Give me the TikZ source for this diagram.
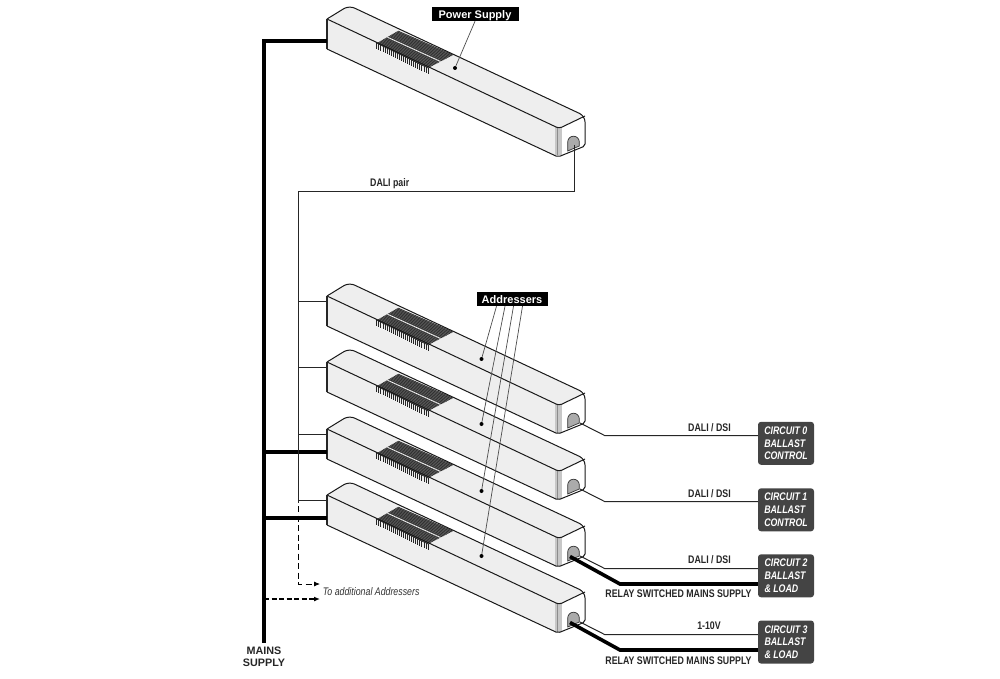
\documentclass[tikz,border=0pt]{standalone}
\usepackage{fontspec}
\usetikzlibrary{calc,arrows.meta}
\setmainfont{Liberation Sans}
\newfontfamily\narrowfont[FakeStretch=0.8]{Liberation Sans}
\definecolor{unitgray}{HTML}{EEEEEE}
\definecolor{slotgray}{HTML}{ABABAB}
\definecolor{circuitgray}{HTML}{444444}
\tikzset{
  unitline/.style={draw=black!90,line width=1pt},
  wire/.style={draw=black!85,line width=1pt},
  mainsline/.style={draw=black,line width=4pt},
  leader/.style={draw=black!70,line width=0.7pt},
  wirelabel/.style={font=\narrowfont\bfseries\fontsize{11}{12}\selectfont,text=black!85,inner sep=0pt},
  tagbox/.style={fill=black,text=white,inner sep=0pt,minimum height=14pt,text height=8.5pt,text depth=0pt,font=\bfseries\fontsize{11}{12}\selectfont},
  circuit/.style={fill=circuitgray,text=white,rounded corners=3pt,minimum width=56pt,minimum height=43pt,
    inner xsep=6pt,inner ysep=0pt,align=left,font=\narrowfont\bfseries\itshape\fontsize{11}{12.6}\selectfont},
  unitdot/.style={circle,fill=black,inner sep=0pt,minimum size=4pt},
  moretip/.style={-{Latex[length=6pt,width=5pt]}},
}
\begin{document}
\begin{tikzpicture}[x=1pt,y=-1pt]
\useasboundingbox (0,0) rectangle (1000,679);

% the five units
\foreach \n/\y in {psu/0,addr0/277,addr1/343,addr2/410,addr3/476} {
  \begin{scope}[shift={(0,\y)}]
    \coordinate (\n-in) at (327,41.5);
    \coordinate (\n-dali) at (327,24.5);
    \coordinate (\n-port) at (574,145);
    \coordinate (\n-tail) at (580,146);
    \coordinate (\n-knee) at (605,158.7);
    \coordinate (\n-relay) at (570,146.5);
    \coordinate (\n-relayknee) at (620,174);
    \coordinate (\n-f1) at (376.7,43.3);
    \coordinate (\n-f2) at (428,68);
    \coordinate (\n-b1) at (398,31);
    \coordinate (\n-b2) at (453,55);

    \fill[white] (327,19) [rounded corners=6pt] -- (349,5.5) -- (585,116) [rounded corners=2pt] -- (585,146) -- (558,157) -- (327,49) -- cycle;
    \fill[unitgray] (327,19) -- (558,128) -- (558,157) -- (327,49) -- cycle;
    \fill[unitgray] (327,19) [rounded corners=6pt] -- (349,5.5) -- (585,116) -- (558,128.5) -- cycle;
    \fill[black!22] (555,127) rectangle (561.7,155.5);
    \draw[black!45,line width=0.6pt] (557.5,127.5) -- (557.5,155.5);

    % grille
    \fill[black!60] (\n-f1) -- (\n-b1) -- (\n-b2) -- (\n-f2) -- cycle;
    \foreach \t in {0,0.0625,...,1.01} {
      \draw[black!85,line width=0.55pt] ($(\n-f1)!\t!(\n-b1)$) -- ($(\n-f2)!\t!(\n-b2)$);
    }
    \draw[white,line width=0.7pt] ($(\n-f1)!0.5!(\n-b1)$) -- ($(\n-f2)!0.5!(\n-b2)$);
    \foreach \t in {0,0.04,...,1.01} {
      \draw[black!85,line width=0.7pt] ($(\n-f1)!\t!(\n-f2)$) -- ++(0,6);
    }

    % outline
    \draw[unitline] (327,19) [rounded corners=6pt] -- (349,5.5) -- (585,116) [rounded corners=2pt] -- (585,146) -- (558,157) -- (327,49);
    \draw[unitline] (327,19) -- (555,126.5) [rounded corners=3pt] -- (559,128.5) -- (585,116);
    \draw[draw=black!85,line width=1.5pt] (327,19) -- (327,49);

    % socket
    \draw[draw=black!80,fill=slotgray,line width=0.7pt] (567.7,151) -- (567.7,142) arc[start angle=180,end angle=0,radius=5.8pt] -- (579.3,146) -- cycle;
  \end{scope}
}

% mains
\node[font=\bfseries\fontsize{10.8}{12.5}\selectfont,align=center,inner sep=0pt,text=black!85] (mainslabel) at (264,657) {MAINS\\SUPPLY};
\draw[mainsline] (psu-in) -| ([yshift=3.5pt]mainslabel.north);
\draw[mainsline] (addr2-in) -- (addr2-in -| mainslabel.north);
\draw[mainsline] (addr3-in) -- (addr3-in -| mainslabel.north);
\coordinate (mainsbranch) at (264,599);
\coordinate (mainsend) at (320,599);
\draw[moretip,dashed,dash pattern=on 5pt off 2.5pt,line width=1.5pt] (mainsbranch) -- (mainsend);

% dali bus
\coordinate (dalibus) at (298,191);
\coordinate (dalibusend) at (298,503);
\coordinate (dalibusdash) at (298,506);
\coordinate (daliarrow) at (320,584);
\draw[wire] (psu-port) |- (dalibus) -- (dalibusend);
\foreach \n in {addr0,addr1,addr2,addr3} {
  \draw[wire] (dalibus |- \n-dali) -- (\n-dali);
}
\draw[moretip,dashed,dash pattern=on 6pt off 3.5pt,line width=0.8pt] (dalibusdash) |- (daliarrow);
\node[font=\narrowfont\itshape\fontsize{11}{12}\selectfont,text=black!80,anchor=west,inner sep=0pt] (morelabel) at (322.7,592) {To additional Addressers};
\node[wirelabel] (dalipairlabel) at (389.7,184) {DALI pair};

% circuits
\node[circuit] (circ0) at (786,443.3) {CIRCUIT 0\\BALLAST\\CONTROL};
\node[circuit] (circ1) at (786,509.8) {CIRCUIT 1\\BALLAST\\CONTROL};
\node[circuit] (circ2) at (786,575.8) {CIRCUIT 2\\BALLAST\\\& LOAD};
\node[circuit] (circ3) at (786,642) {CIRCUIT 3\\BALLAST\\\& LOAD};

\foreach \n/\c in {addr0/circ0,addr1/circ1,addr2/circ2,addr3/circ3} {
  \draw[wire] (\n-tail) -- (\n-knee) -- (\n-knee -| \c.west);
}
\foreach \n/\c in {addr2/circ2,addr3/circ3} {
  \draw[draw=black,line width=3.6pt] (\n-relay) -- (\n-relayknee) -- (\n-relayknee -| \c.west);
}

\node[wirelabel] (label0) at (709.5,428) {DALI / DSI};
\node[wirelabel] (label1) at (709.5,494) {DALI / DSI};
\node[wirelabel] (label2) at (709.5,560) {DALI / DSI};
\node[wirelabel] (label3) at (709,626) {1-10V};
\node[wirelabel] (relay2) at (678.5,594) {RELAY SWITCHED MAINS SUPPLY};
\node[wirelabel] (relay3) at (678.5,660.5) {RELAY SWITCHED MAINS SUPPLY};

% tags
\node[tagbox,minimum width=87pt] (supplytag) at (475,14) {Power Supply};
\node[tagbox,minimum width=71pt] (addrtag) at (512,299) {Addressers};
\node[unitdot] (supplydot) at (455,68) {};
\node[unitdot] (addrdot0) at (481.5,359) {};
\node[unitdot] (addrdot1) at (481.5,424) {};
\node[unitdot] (addrdot2) at (481.5,491) {};
\node[unitdot] (addrdot3) at (481.5,556) {};
\draw[leader] (supplytag.south) -- (supplydot);
\draw[leader] ([xshift=-15.5pt]addrtag.south) -- (addrdot0);
\draw[leader] ([xshift=-7pt]addrtag.south) -- (addrdot1);
\draw[leader] ([xshift=1.5pt]addrtag.south) -- (addrdot2);
\draw[leader] ([xshift=10.5pt]addrtag.south) -- (addrdot3);
\end{tikzpicture}
\end{document}
